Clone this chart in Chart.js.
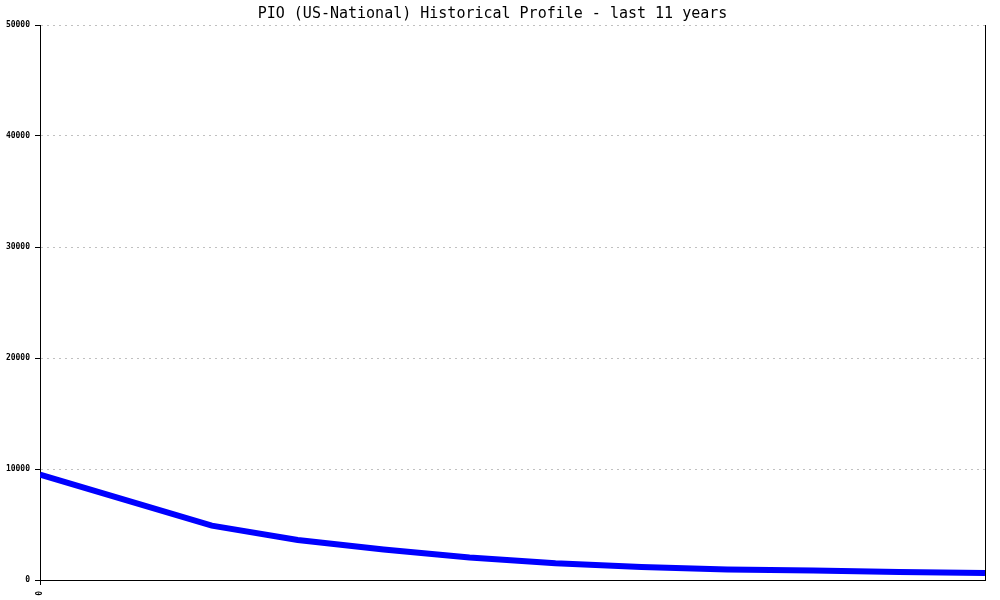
<!DOCTYPE html>
<html>
<head>
<meta charset="utf-8">
<script src="https://cdn.jsdelivr.net/npm/chart.js@4"></script>
<style>
html,body{margin:0;padding:0;background:#fff;}
#wrap{width:1000px;height:600px;position:relative;}
</style>
</head>
<body>
<div id="wrap"><canvas id="c" width="1000" height="600"></canvas></div>
<script>
const titleText = "PIO (US-National) Historical Profile - last 11 years";
const periods = [0, 1, 2, 3, 4, 5, 6, 7, 8, 9, 10, 11];
const values = [9500, 7200, 4900, 3600, 2750, 2030, 1500, 1170, 950, 855, 720, 630];
const yTicks = [0, 10000, 20000, 30000, 40000, 50000];
const xTickLabels = ["0"];

const monoTick = {family: "'DejaVu Sans Mono', monospace", size: 8, weight: 'bold'};

new Chart(document.getElementById('c'), {
  type: 'line',
  data: {
    datasets: [{
      data: periods.map((p, i) => ({x: p, y: values[i]})),
      borderColor: '#0000ff',
      borderWidth: 6,
      pointRadius: 0,
      tension: 0,
      fill: false,
      borderCapStyle: 'butt',
      borderJoinStyle: 'miter'
    }]
  },
  options: {
    responsive: false,
    animation: false,
    devicePixelRatio: 1,
    layout: {padding: {top: 0, right: 15, left: 0, bottom: 0}},
    plugins: {
      legend: {display: false},
      tooltip: {enabled: false},
      title: {
        display: true,
        text: titleText,
        color: '#000',
        font: {family: "'DejaVu Sans Mono', monospace", size: 15, weight: 'normal', lineHeight: 1.2},
        padding: {top: 5, bottom: 2}
      }
    },
    scales: {
      x: {
        type: 'linear',
        min: periods[0],
        max: periods[periods.length - 1],
        afterBuildTicks: s => { s.ticks = xTickLabels.map(() => ({value: periods[0]})); },
        afterFit: s => { s.height = 20; },
        ticks: {
          callback: (v, i) => xTickLabels[i],
          minRotation: 90, maxRotation: 90,
          color: '#000', font: monoTick, padding: 6
        },
        grid: {drawOnChartArea: false, drawTicks: true, tickLength: 5, tickColor: '#000', tickWidth: 1},
        border: {display: true, color: '#000', width: 1}
      },
      y: {
        min: 0, max: 50000,
        afterBuildTicks: s => { s.ticks = yTicks.map(v => ({value: v})); },
        afterFit: s => { s.width = 40; },
        ticks: {color: '#000', font: monoTick, padding: 5, callback: v => String(v)},
        grid: {color: '#c0c0c0', lineWidth: 1, borderDash: [2, 4], drawTicks: true, tickLength: 5, tickColor: '#000', tickWidth: 1},
        border: {display: true, color: '#000', width: 1, dash: [2, 4]}
      },
      y2: {
        position: 'right',
        min: 0, max: 50000,
        afterFit: s => { s.width = 0; },
        ticks: {display: false},
        grid: {drawOnChartArea: false, drawTicks: false},
        border: {display: true, color: '#000', width: 1}
      }
    }
  }
});
</script>
</body>
</html>
